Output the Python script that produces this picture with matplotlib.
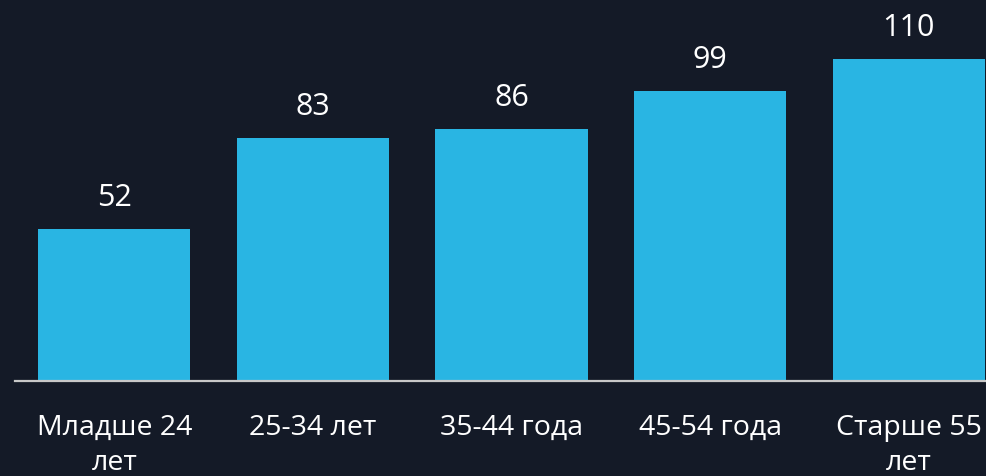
import matplotlib.pyplot as plt

plt.rcParams["font.family"] = ["Open Sans", "DejaVu Sans"]

categories = ["Младше 24\nлет", "25-34 лет", "35-44 года", "45-54 года", "Старше 55\nлет"]
values = [52, 83, 86, 99, 110]

bg = "#141a27"
bar_color = "#29b5e3"

fig = plt.figure(figsize=(9.87, 4.76), dpi=100, facecolor=bg)
ax = fig.add_axes([15 / 987, 95 / 476, 993 / 987, 381 / 476])
ax.set_facecolor(bg)

x = list(range(len(values)))
ax.bar(x, values, width=0.766, color=bar_color, zorder=2)
for xi, v in zip(x, values):
    ax.annotate(str(v), (xi, v), xytext=(0, 22), textcoords="offset points",
                ha="center", va="center", color="white", fontsize=22)

ax.set_xlim(-0.5, 4.5)
ax.set_ylim(0, 130)
ax.set_xticks(x)
ax.set_xticklabels(categories, color="white", fontsize=20.5, linespacing=1.35)
ax.tick_params(axis="x", length=0, pad=23.5)
ax.set_yticks([])
for s in ["top", "right", "left"]:
    ax.spines[s].set_visible(False)
ax.spines["bottom"].set_color("#c8c8c8")
ax.spines["bottom"].set_linewidth(1.6)

fig.savefig("out.png", facecolor=bg)
